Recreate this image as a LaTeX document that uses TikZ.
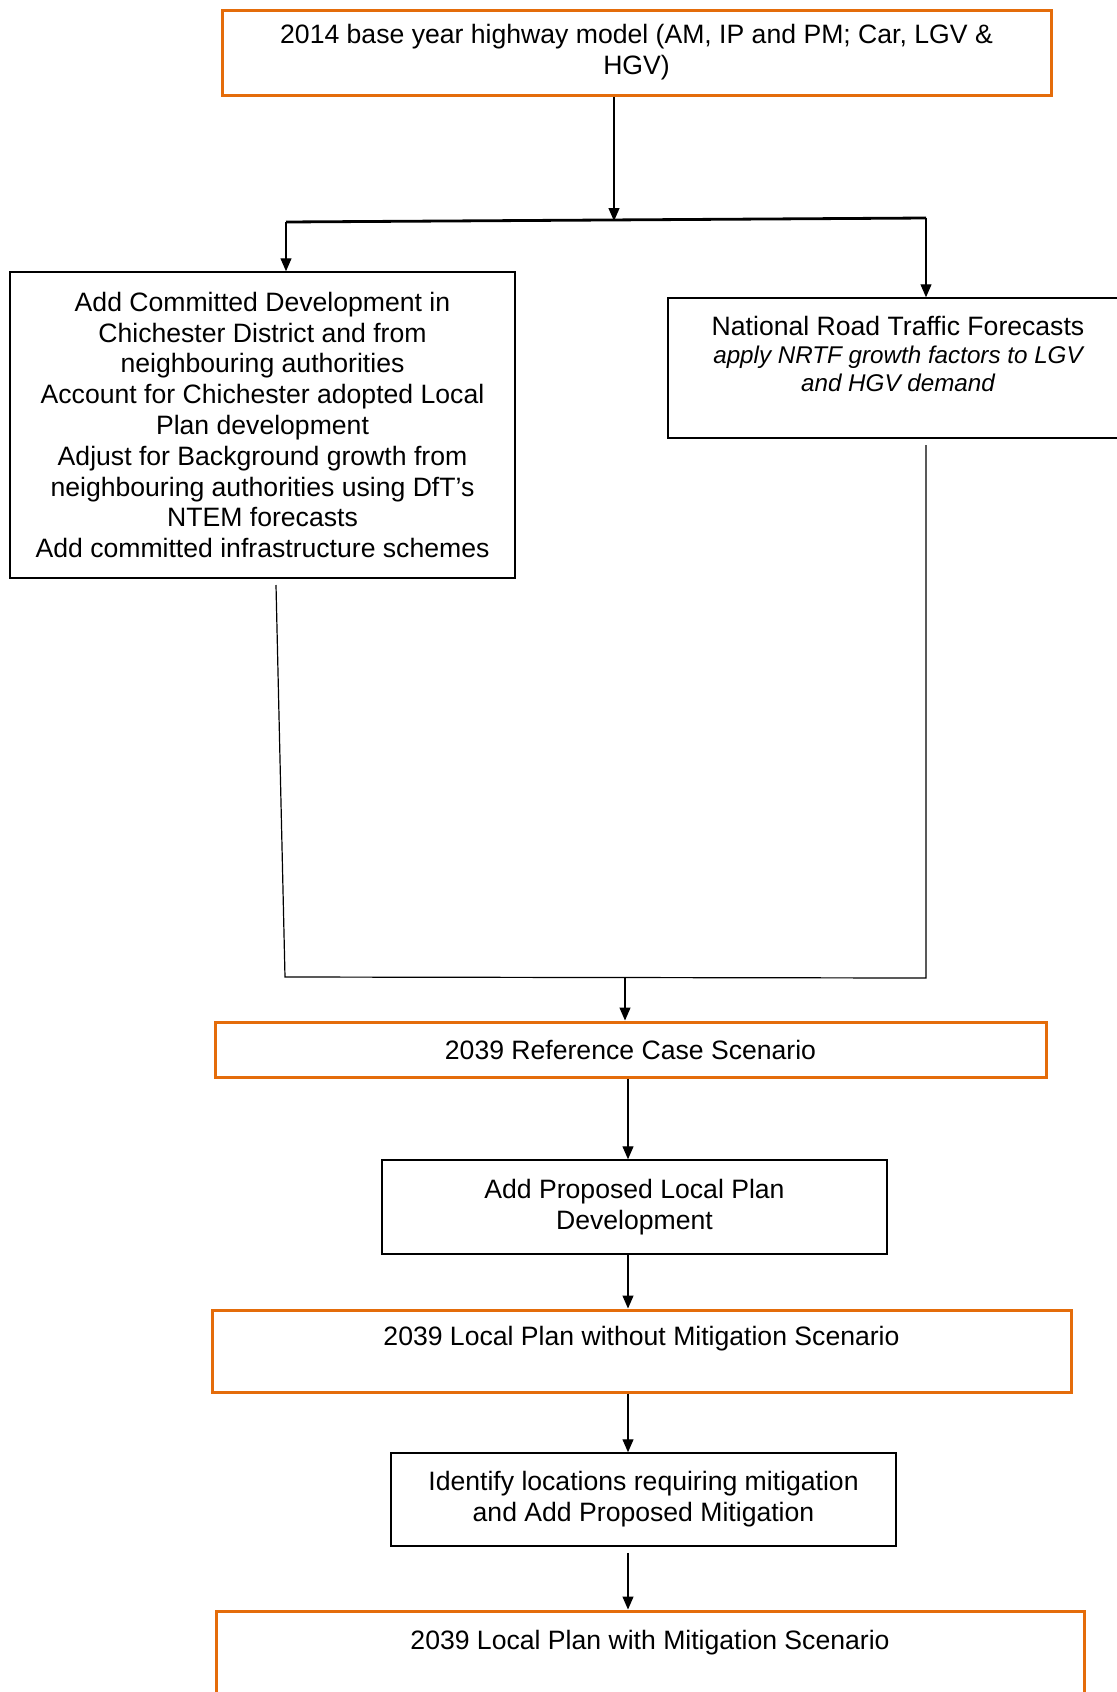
\documentclass[tikz,border=0pt]{standalone}
\usepackage{fontspec}
\setmainfont{Liberation Sans}
\usepackage{pgf,tikz}
\usetikzlibrary{arrows.meta}
\definecolor{scenorange}{RGB}{228,108,10}
\tikzstyle{scenario} = [draw=scenorange, line width=1.5pt, rectangle, align=center, inner sep=0pt]
\tikzstyle{task} = [draw=black, line width=0.75pt, rectangle, align=center, inner sep=0pt]
\tikzstyle{flow} = [-{Triangle[length=6.5pt,width=5.5pt]}, line width=0.6pt]

\begin{document}
\begin{tikzpicture}[x=0.5pt, y=-0.5pt, font=\fontsize{13.3}{15.4}\selectfont]
	\useasboundingbox (0,0) rectangle (1116,1692);
	\node[scenario, minimum width=414.5pt, minimum height=42.5pt] (base) at (636.5,52.5)
		{2014 base year highway model (AM, IP and PM; Car, LGV \&\\HGV)};
	\node[task, minimum width=252.5pt, minimum height=153pt] (committed) at (262.5,425)
		{Add Committed Development in\\Chichester District and from\\neighbouring authorities\\Account for Chichester adopted Local\\Plan development\\Adjust for Background growth from\\neighbouring authorities using DfT’s\\NTEM forecasts\\Add committed infrastructure schemes};
	\node[task, minimum width=230pt, minimum height=70pt, font=\fontsize{13.3}{14.1}\selectfont] (nrtf) at (898,368)
		{National Road Traffic Forecasts\\{\fontsize{12.1}{14.1}\selectfont\itshape apply NRTF growth factors to LGV}\\{\fontsize{12.1}{14.1}\selectfont\itshape and HGV demand}\\\mbox{}};
	\node[scenario, minimum width=415.5pt, minimum height=27.5pt] (refcase) at (630.5,1049.5)
		{2039 Reference Case Scenario};
	\node[task, minimum width=252.5pt, minimum height=47pt] (proposed) at (634.5,1207)
		{Add Proposed Local Plan\\Development};
	\node[scenario, minimum width=429.5pt, minimum height=41pt] (nomitig) at (641.5,1351)
		{2039 Local Plan without Mitigation Scenario\\\mbox{}};
	\node[task, minimum width=252.5pt, minimum height=46.5pt] (identify) at (643.5,1499.5)
		{Identify locations requiring mitigation\\and Add Proposed Mitigation};
	\node[scenario, minimum width=434pt, minimum height=44pt] (withmitig) at (650,1655)
		{2039 Local Plan with Mitigation Scenario\\\mbox{}};

	\coordinate (split) at (614,221);
	\coordinate (splitl) at (286,222);
	\coordinate (splitr) at (926,218);
	\coordinate (leftout) at (276,585);
	\coordinate (rightout) at (926,445);
	\coordinate (joinl) at (285,977);
	\coordinate (joinr) at (926,978);
	\coordinate (join) at (625,978);
	\coordinate (spine) at (628,0);

	\draw[flow] (base.south -| split) -- (split);
	\draw[line width=1.4pt] (splitl) -- (splitr);
	\draw[flow] (splitl) -- (splitl |- committed.north);
	\draw[flow] (splitr) -- (splitr |- nrtf.north);
	\draw[line width=0.6pt] (leftout) -- (joinl) -- (joinr) -- (rightout);
	\draw[flow] (join) -- (join |- refcase.north);
	\draw[flow] (refcase.south -| spine) -- (proposed.north -| spine);
	\draw[flow] (proposed.south -| spine) -- (nomitig.north -| spine);
	\draw[flow] (nomitig.south -| spine) -- (identify.north -| spine);
	\draw[flow] ([yshift=-3pt]identify.south -| spine) -- (withmitig.north -| spine);
\end{tikzpicture}
\end{document}
